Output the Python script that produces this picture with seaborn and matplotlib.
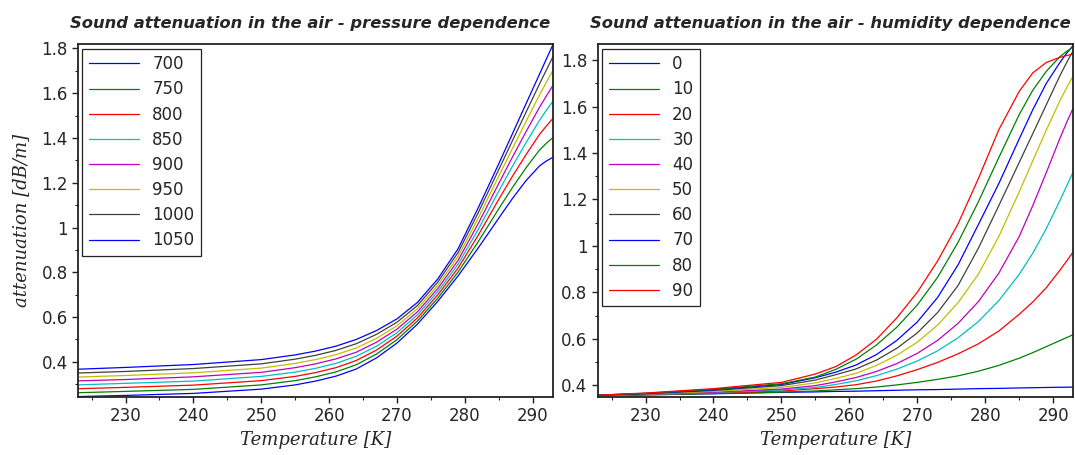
import numpy as np
import pandas as pd
import seaborn as sns
import matplotlib.pyplot as plt
from matplotlib.ticker import MultipleLocator, FuncFormatter


# temperature grid [K] shared by both panels
temps = [223, 230, 240, 250, 255, 258, 261, 264, 267, 270, 273, 276, 279, 282, 285, 287, 289, 291, 292, 293]

# left panel: attenuation [dB/m] for each pressure
pressures = [700, 750, 800, 850, 900, 950, 1000, 1050]
p700 = [0.245, 0.250, 0.259, 0.278, 0.297, 0.314, 0.336, 0.368, 0.418, 0.484, 0.568, 0.670, 0.784, 0.910,
        1.042, 1.129, 1.209, 1.275, 1.297, 1.314]
p750 = [0.262, 0.268, 0.277, 0.297, 0.316, 0.333, 0.355, 0.387, 0.435, 0.499, 0.582, 0.684, 0.801, 0.938,
        1.084, 1.178, 1.266, 1.346, 1.376, 1.402]
p800 = [0.280, 0.286, 0.296, 0.316, 0.335, 0.352, 0.374, 0.406, 0.453, 0.515, 0.596, 0.699, 0.819, 0.967,
        1.126, 1.228, 1.325, 1.416, 1.453, 1.488]
p850 = [0.297, 0.304, 0.314, 0.335, 0.354, 0.371, 0.393, 0.425, 0.470, 0.530, 0.610, 0.713, 0.836, 0.993,
        1.163, 1.273, 1.378, 1.479, 1.523, 1.565]
p900 = [0.315, 0.321, 0.333, 0.353, 0.374, 0.391, 0.413, 0.443, 0.488, 0.546, 0.623, 0.727, 0.853, 1.019,
        1.197, 1.314, 1.427, 1.537, 1.587, 1.636]
p950 = [0.332, 0.339, 0.351, 0.372, 0.393, 0.410, 0.432, 0.462, 0.505, 0.561, 0.637, 0.741, 0.870, 1.044,
        1.230, 1.352, 1.473, 1.592, 1.648, 1.703]
p1000 = [0.350, 0.357, 0.370, 0.391, 0.412, 0.429, 0.451, 0.481, 0.523, 0.577, 0.651, 0.756, 0.888, 1.068,
         1.259, 1.387, 1.514, 1.641, 1.703, 1.764]
p1050 = [0.367, 0.375, 0.388, 0.410, 0.431, 0.448, 0.470, 0.500, 0.540, 0.592, 0.665, 0.770, 0.905, 1.090,
         1.285, 1.418, 1.552, 1.685, 1.752, 1.818]

# right panel: attenuation [dB/m] for each relative humidity
humidities = [0, 10, 20, 30, 40, 50, 60, 70, 80, 90]
h0 = [0.354, 0.358, 0.363, 0.369, 0.371, 0.373, 0.374, 0.376, 0.378, 0.380, 0.381, 0.383, 0.385, 0.386,
      0.388, 0.389, 0.390, 0.391, 0.391, 0.392]
h10 = [0.355, 0.359, 0.364, 0.370, 0.375, 0.380, 0.385, 0.392, 0.401, 0.412, 0.425, 0.440, 0.460, 0.485,
       0.516, 0.540, 0.566, 0.592, 0.605, 0.618]
h20 = [0.355, 0.360, 0.366, 0.375, 0.385, 0.392, 0.402, 0.418, 0.440, 0.467, 0.498, 0.535, 0.578, 0.633,
       0.705, 0.758, 0.820, 0.895, 0.935, 0.976]
h30 = [0.355, 0.360, 0.368, 0.379, 0.390, 0.403, 0.419, 0.441, 0.469, 0.504, 0.548, 0.604, 0.674, 0.764,
       0.877, 0.968, 1.075, 1.195, 1.258, 1.322]
h40 = [0.356, 0.361, 0.370, 0.383, 0.398, 0.414, 0.433, 0.459, 0.493, 0.537, 0.593, 0.666, 0.760, 0.882,
       1.040, 1.173, 1.316, 1.463, 1.532, 1.597]
h50 = [0.356, 0.362, 0.373, 0.390, 0.410, 0.429, 0.451, 0.485, 0.529, 0.585, 0.659, 0.755, 0.878, 1.040,
       1.232, 1.366, 1.499, 1.625, 1.682, 1.735]
h60 = [0.356, 0.363, 0.377, 0.398, 0.422, 0.445, 0.470, 0.508, 0.559, 0.625, 0.713, 0.829, 0.990, 1.173,
       1.359, 1.483, 1.608, 1.733, 1.790, 1.843]
h70 = [0.357, 0.364, 0.380, 0.403, 0.432, 0.456, 0.487, 0.532, 0.593, 0.672, 0.778, 0.918, 1.092, 1.268,
       1.460, 1.586, 1.700, 1.790, 1.830, 1.865]
h80 = [0.357, 0.365, 0.382, 0.406, 0.435, 0.468, 0.512, 0.573, 0.650, 0.745, 0.865, 1.015, 1.190, 1.380,
       1.565, 1.670, 1.752, 1.815, 1.838, 1.857]
h90 = [0.357, 0.366, 0.385, 0.412, 0.448, 0.480, 0.530, 0.598, 0.690, 0.800, 0.935, 1.095, 1.290, 1.500,
       1.665, 1.745, 1.790, 1.812, 1.820, 1.826]

line_colors = ['#0000ff', '#008000', '#ff0000', '#00bfbf', '#bf00bf', '#bfbf00', '#404040',
               '#0000ff', '#008000', '#ff0000']


def long_frame(keys, series, name):
    rows = []
    for k, vals in zip(keys, series):
        for t, v in zip(temps, vals):
            rows.append({'T': t, 'att': v, name: k})
    return pd.DataFrame(rows)


pressure_df = long_frame(pressures, [p700, p750, p800, p850, p900, p950, p1000, p1050], 'p')
humidity_df = long_frame(humidities, [h0, h10, h20, h30, h40, h50, h60, h70, h80, h90], 'h')

sns.set_style("white")
plt.rcParams['font.family'] = ['DejaVu Sans']

fig = plt.figure(figsize=(10.75, 4.55), dpi=100)
ax1 = fig.add_axes([0.0726, 0.128, 0.4419, 0.7745])
ax2 = fig.add_axes([0.5563, 0.128, 0.4423, 0.7745])

panels = [
    (ax1, pressure_df, 'p', pressures, 'Sound attenuation in the air - pressure dependence', (0.244, 1.818)),
    (ax2, humidity_df, 'h', humidities, 'Sound attenuation in the air - humidity dependence', (0.35, 1.868)),
]

for ax, df, key, keys, title, ylim in panels:
    pal = {k: line_colors[i] for i, k in enumerate(keys)}
    sns.lineplot(data=df, x='T', y='att', hue=key, palette=pal, linewidth=0.9, ax=ax)
    ax.set_xlim(223, 293)
    ax.set_ylim(*ylim)
    ax.xaxis.set_major_locator(MultipleLocator(10))
    ax.xaxis.set_minor_locator(MultipleLocator(5))
    ax.yaxis.set_major_locator(MultipleLocator(0.2))
    ax.yaxis.set_minor_locator(MultipleLocator(0.1))
    ax.yaxis.set_major_formatter(FuncFormatter(lambda v, pos: '%g' % round(v, 2)))
    ax.tick_params(which='major', direction='out', length=4, width=1, labelsize=12,
                   left=True, bottom=True, top=False, right=False, color='#222222')
    ax.tick_params(which='minor', direction='out', length=2, width=0.8,
                   left=True, bottom=True, top=False, right=False, color='#222222')
    for s in ax.spines.values():
        s.set_color('#222222')
        s.set_linewidth(1.3)
    ax.set_title(title, fontsize=11.8, fontweight='bold', fontstyle='italic', pad=12, x=0.488)
    ax.set_xlabel('Temperature [K]', family='DejaVu Serif', style='italic', fontsize=13)
    ax.set_ylabel('')
    handles, labels = ax.get_legend_handles_labels()
    leg = ax.legend(handles, [str(k) for k in keys], loc='upper left', fontsize=12,
                    frameon=True, fancybox=False, framealpha=1, edgecolor='#222222',
                    handlelength=3.0, labelspacing=0.43, borderaxespad=0.25, borderpad=0.4)
    leg.get_frame().set_linewidth(0.9)

ax1.set_ylabel('attenuation [dB/m]', family='DejaVu Serif', style='italic', fontsize=13, labelpad=8)

fig.savefig('out.png', dpi=100)
